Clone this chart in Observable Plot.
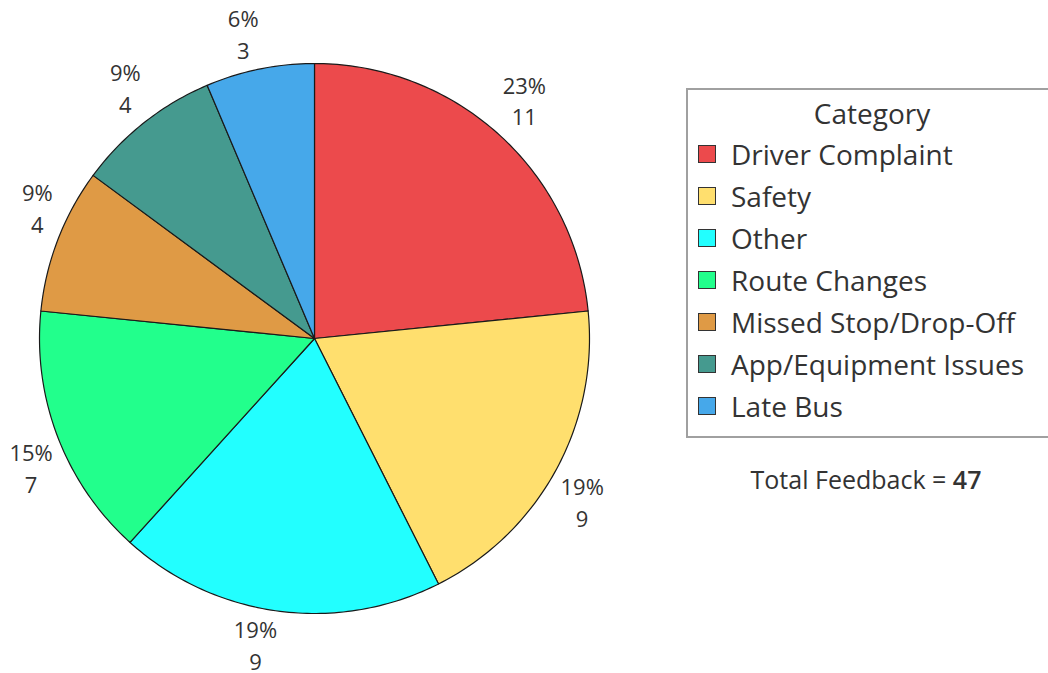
<!DOCTYPE html>
<html>
<head>
<meta charset="utf-8">
<script src="https://cdn.jsdelivr.net/npm/d3@7"></script>
<script src="https://cdn.jsdelivr.net/npm/@observablehq/plot@0.6"></script>
<style>
  html, body { margin: 0; padding: 0; background: #fff; }
  body { width: 1048px; height: 673px; position: relative; overflow: hidden; font-family: "Open Sans", "Noto Sans", sans-serif; color: #333; }
  #chart { position: absolute; left: 0; top: 0; }
  #legend { position: absolute; left: 686px; top: 88px; width: 380px; height: 350px; border: 2px solid #a0a0a0; box-sizing: border-box; }
  #legend .title { position: absolute; left: 0; width: 368px; top: 4px; text-align: center; font-size: 28px; line-height: 38px; }
  #legend .row { position: absolute; left: 10px; height: 42px; display: flex; align-items: center; font-size: 28px; white-space: nowrap; }
  #legend .sw { width: 18px; height: 18px; border: 1.5px solid #333; box-sizing: border-box; margin-right: 15px; flex: none; }
  #total { position: absolute; left: 686px; width: 360px; top: 462px; text-align: center; font-size: 25px; line-height: 34px; }
</style>
</head>
<body>
<div id="chart"></div>
<div id="legend"></div>
<div id="total"></div>
<script>
const categories = ["Driver Complaint", "Safety", "Other", "Route Changes", "Missed Stop/Drop-Off", "App/Equipment Issues", "Late Bus"];
const counts = [11, 9, 9, 7, 4, 4, 3];
const colors = ["#EC4A4C", "#FFDF6E", "#22FFFF", "#22FF8C", "#DF9A45", "#459A8F", "#46A8EA"];
const legendTitle = "Category";
const totalLabel = "Total Feedback = ";

const FONT = "'Open Sans', 'Noto Sans', sans-serif";
const labelSize = 22;
const radiusPx = 275;
const total = d3.sum(counts);
const arcs = d3.pie().sort(null).startAngle(0).endAngle(2 * Math.PI)(counts);

// slice outlines in unit-circle data space
const slicePts = [];
arcs.forEach((a, i) => {
  const cat = categories[i];
  slicePts.push({cat, x: 0, y: 0});
  const n = Math.max(8, Math.ceil((a.endAngle - a.startAngle) * 60));
  for (let k = 0; k <= n; k++) {
    const t = a.startAngle + (a.endAngle - a.startAngle) * k / n;
    slicePts.push({cat, x: Math.sin(t), y: Math.cos(t)});
  }
  slicePts.push({cat, x: 0, y: 0});
});

// labels: nearest corner of the label box sits just outside the rim
const ctx = document.createElement("canvas").getContext("2d");
ctx.font = labelSize + "px " + FONT;
const labelR = 1.02;
const labels = arcs.map((a, i) => {
  const m = (a.startAngle + a.endAngle) / 2;
  const pct = Math.round(counts[i] / total * 100) + "%";
  const w = ctx.measureText(pct).width / radiusPx; // half-box offset in data units
  const s = Math.sin(m), c = Math.cos(m);
  return {
    x: labelR * s + (s >= 0 ? w / 2 : -w / 2),
    y: labelR * c,
    anchor: c >= 0 ? "bottom" : "top",
    text: pct + "\n" + counts[i]
  };
});

const chart = Plot.plot({
  width: 1048,
  height: 673,
  marginLeft: 39,
  marginRight: 459,
  marginTop: 63,
  marginBottom: 60,
  x: {domain: [-1, 1], axis: null},
  y: {domain: [-1, 1], axis: null},
  color: {domain: categories, range: colors},
  style: {fontFamily: FONT, background: "#fff", overflow: "visible"},
  marks: [
    Plot.line(slicePts, {x: "x", y: "y", z: "cat", fill: "cat", stroke: "#1a1a1a", strokeWidth: 1.2, strokeLinejoin: "round", curve: "linear"}),
    Plot.text(labels.filter(d => d.anchor === "bottom"), {x: "x", y: "y", text: "text", fontSize: labelSize, lineHeight: 1.45, lineAnchor: "bottom", dy: -5, fill: "#333", textAnchor: "middle"}),
    Plot.text(labels.filter(d => d.anchor === "top"), {x: "x", y: "y", text: "text", fontSize: labelSize, lineHeight: 1.45, lineAnchor: "top", dy: -1, fill: "#333", textAnchor: "middle"})
  ]
});
document.getElementById("chart").appendChild(chart);

const legend = document.getElementById("legend");
const t = document.createElement("div");
t.className = "title";
t.textContent = legendTitle;
legend.appendChild(t);
categories.forEach((c, i) => {
  const r = document.createElement("div");
  r.className = "row";
  r.style.top = (43 + i * 42) + "px";
  const sw = document.createElement("span");
  sw.className = "sw";
  sw.style.background = colors[i];
  const lab = document.createElement("span");
  lab.textContent = c;
  r.appendChild(sw);
  r.appendChild(lab);
  legend.appendChild(r);
});
const tot = document.getElementById("total");
tot.appendChild(document.createTextNode(totalLabel));
const b = document.createElement("b");
b.textContent = total;
b.style.fontWeight = "600";
tot.appendChild(b);
</script>
</body>
</html>
